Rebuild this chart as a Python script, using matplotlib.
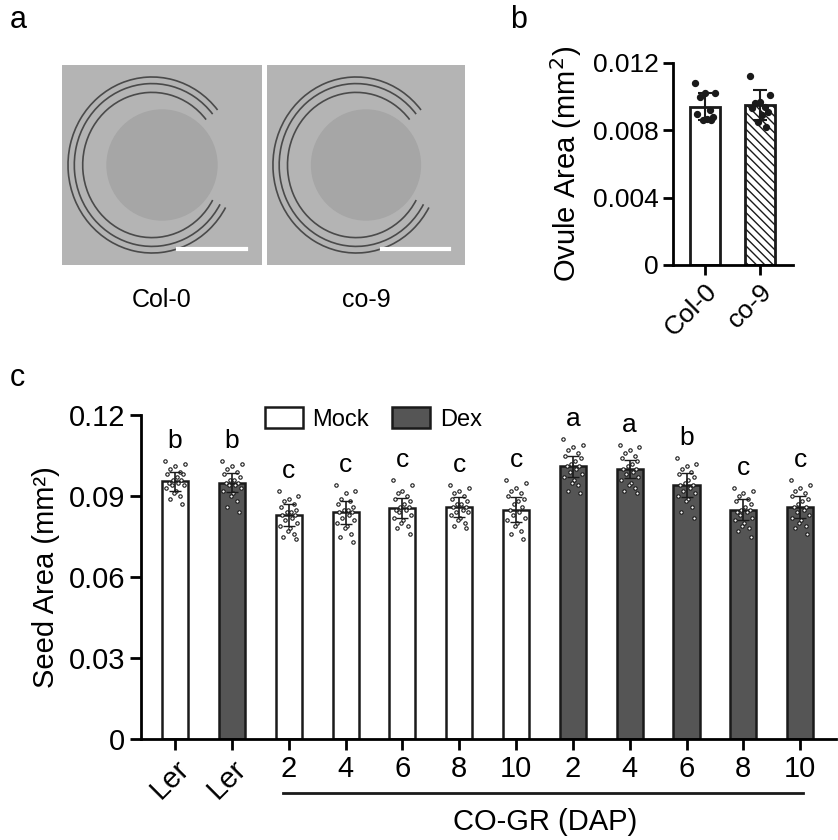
import matplotlib.pyplot as plt
import numpy as np
from matplotlib.patches import Ellipse, Arc, Rectangle
from matplotlib.lines import Line2D

plt.rcParams['font.family'] = ['Liberation Sans', 'DejaVu Sans']
plt.rcParams['axes.linewidth'] = 2

# panel b data
ovule_groups = ['Col-0', 'co-9']
ovule_means = [0.0094, 0.0095]
ovule_sd = [0.0008, 0.0009]
ovule_points = [
    [0.0108, 0.0102, 0.0102, 0.0100, 0.0092, 0.0090, 0.0088, 0.0087, 0.0086, 0.0086],
    [0.0112, 0.0101, 0.0097, 0.0096, 0.0094, 0.0093, 0.0091, 0.0089, 0.0085, 0.0082],
]

# panel c data
seed_labels = ['Ler', 'Ler', '2', '4', '6', '8', '10', '2', '4', '6', '8', '10']
seed_dex = [False, True, False, False, False, False, False, True, True, True, True, True]
seed_means = [0.0955, 0.095, 0.083, 0.084, 0.0855, 0.086, 0.085, 0.101, 0.100, 0.094, 0.085, 0.086]
seed_sd = [0.0035, 0.0037, 0.0040, 0.0043, 0.0038, 0.0036, 0.0045, 0.0040, 0.0035, 0.0045, 0.0040, 0.0040]
seed_letters = ['b', 'b', 'c', 'c', 'c', 'c', 'c', 'a', 'a', 'b', 'c', 'c']
seed_points = [
    [0.103, 0.102, 0.101, 0.100, 0.099, 0.098, 0.098, 0.097, 0.096, 0.096, 0.095, 0.095, 0.094, 0.094, 0.093, 0.092, 0.091, 0.090, 0.089, 0.087],
    [0.103, 0.102, 0.101, 0.100, 0.099, 0.098, 0.097, 0.096, 0.096, 0.095, 0.095, 0.094, 0.094, 0.093, 0.092, 0.091, 0.090, 0.088, 0.086, 0.084],
    [0.092, 0.090, 0.089, 0.088, 0.087, 0.086, 0.085, 0.084, 0.084, 0.083, 0.083, 0.082, 0.081, 0.080, 0.079, 0.078, 0.077, 0.076, 0.075, 0.074],
    [0.094, 0.092, 0.091, 0.089, 0.088, 0.087, 0.086, 0.085, 0.085, 0.084, 0.084, 0.083, 0.082, 0.081, 0.080, 0.079, 0.078, 0.076, 0.075, 0.073],
    [0.096, 0.094, 0.092, 0.091, 0.090, 0.089, 0.088, 0.087, 0.086, 0.086, 0.085, 0.085, 0.084, 0.083, 0.082, 0.081, 0.080, 0.079, 0.078, 0.076],
    [0.094, 0.093, 0.092, 0.091, 0.090, 0.089, 0.088, 0.087, 0.087, 0.086, 0.086, 0.085, 0.084, 0.084, 0.083, 0.082, 0.081, 0.080, 0.079, 0.078],
    [0.096, 0.095, 0.093, 0.092, 0.091, 0.090, 0.089, 0.088, 0.087, 0.086, 0.085, 0.084, 0.083, 0.082, 0.081, 0.080, 0.079, 0.077, 0.076, 0.074],
    [0.111, 0.109, 0.108, 0.107, 0.106, 0.105, 0.104, 0.103, 0.102, 0.101, 0.101, 0.100, 0.099, 0.098, 0.097, 0.096, 0.095, 0.094, 0.092, 0.091],
    [0.109, 0.108, 0.107, 0.106, 0.105, 0.104, 0.103, 0.102, 0.101, 0.100, 0.100, 0.099, 0.098, 0.097, 0.096, 0.095, 0.094, 0.093, 0.092, 0.091],
    [0.104, 0.102, 0.101, 0.100, 0.099, 0.098, 0.097, 0.096, 0.095, 0.094, 0.094, 0.093, 0.092, 0.091, 0.090, 0.089, 0.088, 0.086, 0.084, 0.082],
    [0.093, 0.092, 0.091, 0.090, 0.089, 0.088, 0.087, 0.086, 0.085, 0.085, 0.084, 0.084, 0.083, 0.082, 0.081, 0.080, 0.079, 0.078, 0.077, 0.075],
    [0.096, 0.094, 0.093, 0.092, 0.091, 0.090, 0.089, 0.088, 0.087, 0.086, 0.086, 0.085, 0.084, 0.083, 0.082, 0.081, 0.080, 0.079, 0.078, 0.076],
]

W, H = 838, 840
fig = plt.figure(figsize=(W / 100, H / 100), dpi=100)

def px_axes(x0, y0, x1, y1):
    return fig.add_axes([x0 / W, 1 - y1 / H, (x1 - x0) / W, (y1 - y0) / H])

def jitter(n, width):
    pattern = [-1, 1, 0, -0.5, 0.5, -0.8, 0.8, 0.2, -0.2, 0.65, -0.65, 0.35, -0.35, 0.9, -0.9, 0.1, -0.1, 0.55, -0.55, 0.75]
    return np.array([pattern[i % len(pattern)] for i in range(n)]) * width

# panel a: image placeholders
for (x0, x1), name in [((62, 262), 'Col-0'), ((267, 465), 'co-9')]:
    ax = px_axes(x0, 65, x1, 265)
    ax.set_xlim(0, 1); ax.set_ylim(0, 1)
    ax.add_patch(Rectangle((0, 0), 1, 1, color='#b4b4b4'))
    for r in [0.40, 0.37, 0.33]:
        ax.add_patch(Arc((0.45, 0.5), 2 * r * 1.05, 2 * r * 1.1, theta1=40, theta2=330, color='#4a4a4a', lw=1.2))
    ax.add_patch(Ellipse((0.5, 0.5), 0.55, 0.55, color='#a6a6a6'))
    ax.plot([0.58, 0.92], [0.08, 0.08], color='white', lw=3)
    ax.axis('off')
    fig.text((x0 + x1) / 2 / W, 1 - 300 / H, name, ha='center', va='center', fontsize=18)

fig.text(10 / W, 1 - 20 / H, 'a', fontsize=22, va='center')
fig.text(510 / W, 1 - 20 / H, 'b', fontsize=22, va='center')
fig.text(10 / W, 1 - 378 / H, 'c', fontsize=22, va='center')

# panel b
axb = px_axes(673, 63, 793, 265)
xb = np.arange(len(ovule_groups))
axb.bar(xb, ovule_means, width=0.55, color='white', edgecolor='#1a1a1a', lw=2,
        hatch=['', '\\\\\\\\'], zorder=1)
axb.errorbar(xb, ovule_means, yerr=ovule_sd, fmt='none', ecolor='#1a1a1a', elinewidth=1.5, capsize=5, capthick=1.5, zorder=3)
for i, pts in enumerate(ovule_points):
    axb.scatter(i + jitter(len(pts), 0.18), pts, s=18, color='#1a1a1a', zorder=4)
axb.set_xlim(-0.58, 1.6)
axb.set_ylim(0, 0.012)
axb.set_yticks([0, 0.004, 0.008, 0.012])
axb.set_yticklabels(['0', '0.004', '0.008', '0.012'])
axb.set_xticks(xb)
axb.set_xticklabels(ovule_groups, rotation=45, ha='right', rotation_mode='anchor')
axb.tick_params(labelsize=19, width=2, length=7)
axb.set_ylabel('Ovule Area (mm$^2$)', fontsize=21, labelpad=6)
for s in ['top', 'right']:
    axb.spines[s].set_visible(False)

# panel c
axc = px_axes(141, 415, 836, 739)
xc = np.arange(len(seed_labels))
colors = ['#555555' if d else 'white' for d in seed_dex]
axc.bar(xc, seed_means, width=0.46, color=colors, edgecolor='#1a1a1a', lw=1.8, zorder=1)
for i, pts in enumerate(seed_points):
    axc.scatter(i + jitter(len(pts), 0.17), pts, s=6, facecolor='white', edgecolor='#1a1a1a', lw=0.8, zorder=3)
axc.errorbar(xc, seed_means, yerr=seed_sd, fmt='none', ecolor='#1a1a1a', elinewidth=1.2, capsize=4, zorder=4)
for i, (pts, lt) in enumerate(zip(seed_points, seed_letters)):
    axc.text(i, max(pts) + 0.003, lt, ha='center', va='bottom', fontsize=19)
axc.set_xlim(-0.6, 11.63)
axc.set_ylim(0, 0.12)
axc.set_yticks([0, 0.03, 0.06, 0.09, 0.12])
axc.set_yticklabels(['0', '0.03', '0.06', '0.09', '0.12'])
axc.set_xticks(xc)
axc.set_xticklabels(seed_labels)
for i, t in enumerate(axc.get_xticklabels()):
    if seed_labels[i] == 'Ler':
        t.set_rotation(45); t.set_ha('right'); t.set_rotation_mode('anchor')
axc.tick_params(labelsize=21, width=2, length=8)
axc.set_ylabel('Seed Area (mm²)', fontsize=21, labelpad=6)
for s in ['top', 'right']:
    axc.spines[s].set_visible(False)

handles = [Rectangle((0, 0), 1, 1, facecolor='white', edgecolor='#1a1a1a', lw=1.8),
           Rectangle((0, 0), 1, 1, facecolor='#555555', edgecolor='#1a1a1a', lw=1.8)]
fig.legend(handles, ['Mock', 'Dex'], loc='upper left', bbox_to_anchor=(265 / W, 1 - 407 / H),
           ncol=2, frameon=False, fontsize=17, handlelength=1.6, handleheight=1.0,
           columnspacing=1.0, handletextpad=0.4, borderaxespad=0, borderpad=0)

fig.add_artist(Line2D([283 / W, 803 / W], [1 - 793 / H, 1 - 793 / H], color='#1a1a1a', lw=2))
fig.text(545 / W, 1 - 822 / H, 'CO-GR (DAP)', ha='center', va='center', fontsize=21)

fig.savefig('out.png', dpi=100)
